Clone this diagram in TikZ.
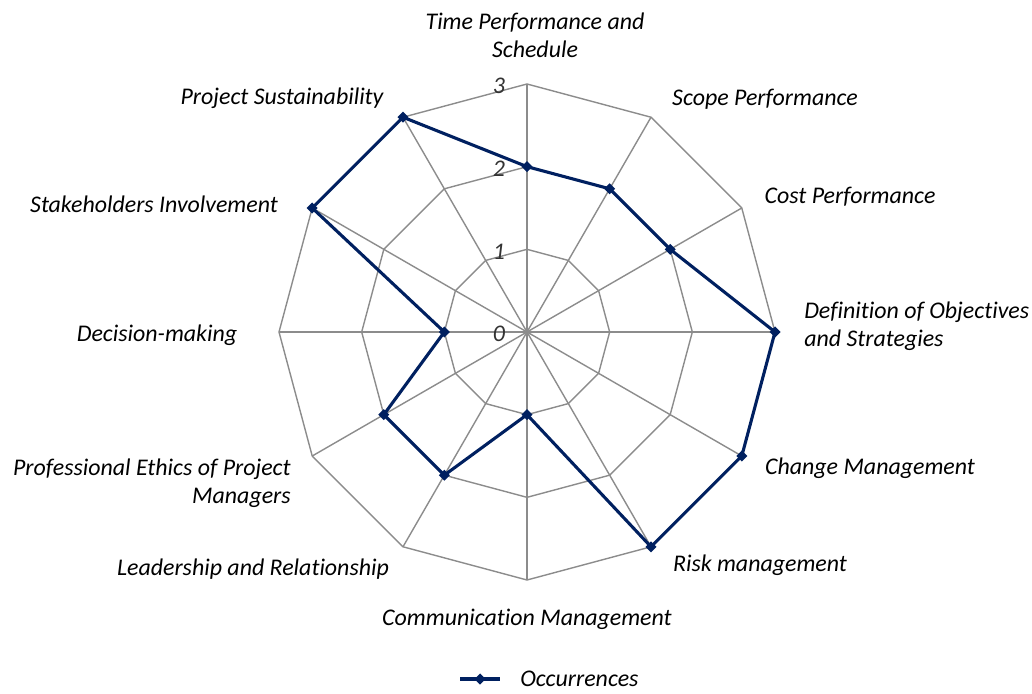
\documentclass[tikz,border=0pt]{standalone}
\usepackage{fontspec}
\setmainfont{Carlito}[Ligatures=NoCommon]
\usetikzlibrary{shapes.geometric}
\definecolor{gridgray}{RGB}{140,140,140}
\definecolor{navy}{RGB}{0,32,96}
\begin{document}
\begin{tikzpicture}[x=0.025cm,y=0.025cm,
    grid/.style={draw=gridgray,line width=1pt},
    dataline/.style={draw=navy,line width=2.2pt,line join=round},
    datamark/.style={diamond,fill=navy,inner sep=0pt,minimum size=8pt},
    lbl/.style={font=\fontsize{17}{20}\selectfont\itshape,inner sep=0pt},
    tick/.style={font=\fontsize{17}{20}\selectfont\itshape,text=black!80,inner sep=0pt}]
    \useasboundingbox (0,0) rectangle (1032,693);

    \begin{scope}[shift={(527,361)}]
        % rings and spokes
        \foreach \r in {82.67,165.33,248}
            \draw[grid] (90:\r) \foreach \a in {120,150,...,420} {-- (\a:\r)} -- cycle;
        \foreach \a in {0,30,...,330}
            \draw[grid] (0,0) -- (\a:248);
        \foreach \k in {0,1,2,3}
            \node[tick] (tick\k) at (-28,\k*82.67-2) {\k};

        % data
        \foreach \a/\v [count=\i] in {90/2,60/2,30/2,0/3,-30/3,-60/3,-90/1,-120/2,-150/2,180/1,150/3,120/3}
            \coordinate (p\i) at (\a:\v*82.67);
        \draw[dataline] (p1) \foreach \i in {2,...,12} {-- (p\i)} -- cycle;
        \foreach \i in {1,...,12}
            \node[datamark] (m\i) at (p\i) {};
    \end{scope}

    \node[lbl,align=center] (time) at (535,658) {Time Performance and\\Schedule};
    \node[lbl] (scope) at (765,594) {Scope Performance};
    \node[lbl] (cost) at (850,496) {Cost Performance};
    \node[lbl,align=left,anchor=west] (objectives) at (804,367) {Definition of Objectives\\and Strategies};
    \node[lbl] (change) at (870,225) {Change Management};
    \node[lbl] (risk) at (760,128) {Risk management};
    \node[lbl] (comm) at (527,74) {Communication Management};
    \node[lbl] (leader) at (253,124) {Leadership and Relationship};
    \node[lbl,align=right,anchor=east] (ethics) at (291,210) {Professional Ethics of Project\\Managers};
    \node[lbl] (decision) at (157,358) {Decision-making};
    \node[lbl] (stake) at (154,489) {Stakeholders Involvement};
    \node[lbl] (sustain) at (282,595) {Project Sustainability};

    % legend
    \coordinate (legA) at (460,14);
    \coordinate (legB) at (500,14);
    \draw[dataline] (legA) -- (legB);
    \node[datamark] (legmark) at (480,14) {};
    \node[lbl,anchor=west] (legtext) at (520,14) {Occurrences};
\end{tikzpicture}
\end{document}
